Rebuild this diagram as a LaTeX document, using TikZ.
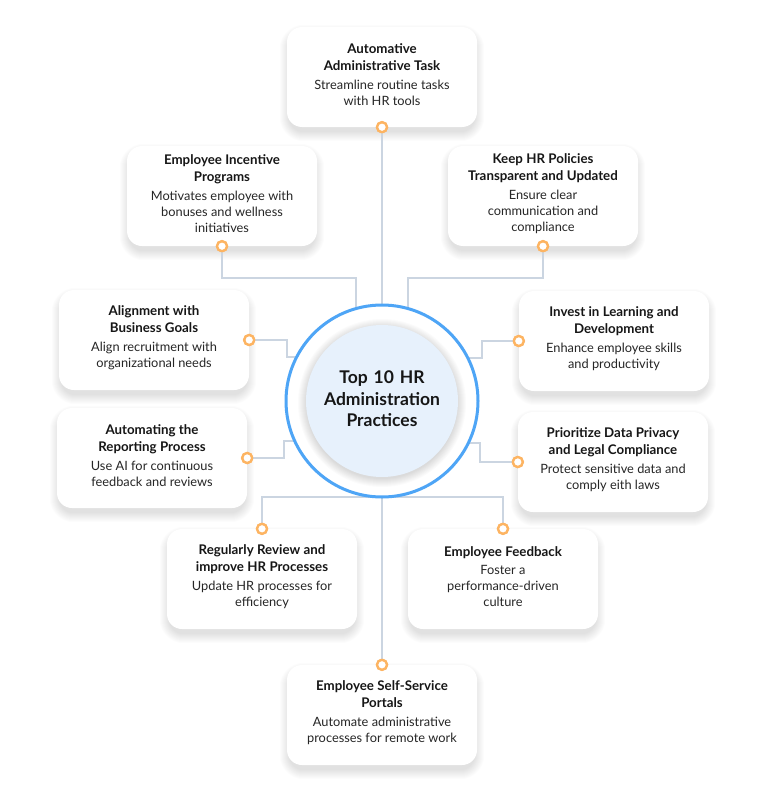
\documentclass[tikz,border=0pt]{standalone}
\usepackage{fontspec}
\setmainfont{Lato}
\usetikzlibrary{calc,backgrounds}
\definecolor{ringblue}{HTML}{4EA5F6}
\definecolor{innerfill}{HTML}{E7F1FC}
\definecolor{connc}{HTML}{CBD5E1}
\definecolor{dotc}{HTML}{FDB462}
\definecolor{titlec}{HTML}{161616}
\definecolor{bodyc}{HTML}{262626}
\newcommand{\cardtitlefont}{\fontsize{13.3}{17}\selectfont\bfseries\color{titlec}}
\newcommand{\cardbodyfont}{\fontsize{12.8}{16}\selectfont\color{bodyc}}
\newcommand{\cardcontent}[2]{{\cardtitlefont #1\par}\vspace{2.5pt}{\cardbodyfont #2\par}\vspace{5pt}\nointerlineskip\hbox{}}
\tikzset{
  card/.style={fill=white, rounded corners=15pt, minimum width=190pt, minimum height=100pt, inner sep=0pt,
    text width=186pt, align=center},
  conn/.style={draw=connc, line width=1.2pt},
  dotnode/.style={circle, draw=dotc, fill=white, line width=2.3pt, minimum size=10pt, inner sep=0pt},
  shadowlayer/.style={fill=black, fill opacity=0.011},
}
\begin{document}
\begin{tikzpicture}[x=1pt,y=-1pt]
\useasboundingbox (0,0) rectangle (765,800);

% cards
\node[card] (b1)  at (382,77)  {\cardcontent{Automative\\Administrative Task}{Streamline routine tasks\\with HR tools}};
\node[card] (b2)  at (222,196) {\cardcontent{Employee Incentive\\Programs}{Motivates employee with\\bonuses and wellness\\initiatives}};
\node[card] (b3)  at (543,196) {\cardcontent{Keep HR Policies\\Transparent and Updated}{Ensure clear\\communication and\\compliance}};
\node[card] (b4)  at (154,340) {\cardcontent{Alignment with\\Business Goals}{Align recruitment with\\organizational needs}};
\node[card] (b5)  at (614,341) {\cardcontent{Invest in Learning and\\Development}{Enhance employee skills\\and productivity}};
\node[card] (b6)  at (152,458) {\cardcontent{Automating the\\Reporting Process}{Use AI for continuous\\feedback and reviews}};
\node[card] (b7)  at (613,462) {\cardcontent{Prioritize Data Privacy\\and Legal Compliance}{Protect sensitive data and\\comply eith laws}};
\node[card] (b8)  at (262,579) {\cardcontent{Regularly Review and\\improve HR Processes}{Update HR processes for\\efficiency}};
\node[card] (b9)  at (503,579) {\cardcontent{Employee Feedback}{Foster a\\performance-driven\\culture}};
\node[card] (b10) at (382,715) {\cardcontent{Employee Self-Service\\Portals}{Automate administrative\\processes for remote work}};

% soft shadows and page background
\begin{scope}[on background layer]
  \fill[white] (0,0) rectangle (765,800);
  \foreach \b in {b1,b2,b3,b4,b5,b6,b7,b8,b9,b10}
    \foreach \k in {0,...,9}
      \fill[shadowlayer, rounded corners={15pt+\k pt}]
        ($(\b.south west)+(-\k+2,\k+5)$) rectangle ($(\b.north east)+(\k-2,-\k+7)$);
\end{scope}

% connection points
\node[dotnode] (d1)  at (b1.south) {};
\node[dotnode] (d2)  at (b2.south) {};
\node[dotnode] (d3)  at (b3.south) {};
\node[dotnode] (d4)  at (b4.east) {};
\node[dotnode] (d5)  at (b5.west) {};
\node[dotnode] (d6)  at (b6.east) {};
\node[dotnode] (d7)  at (b7.west) {};
\node[dotnode] (d8)  at (b8.north) {};
\node[dotnode] (d9)  at (b9.north) {};
\node[dotnode] (d10) at (b10.north) {};

% connectors
\coordinate (cc) at (382,401);
\draw[conn] (d1) -- (cc);
\draw[conn] (d2) |- (356,278) -- (356,401);
\draw[conn] (d3) |- (408,278) -- (408,401);
\draw[conn] (d4) -| (287,357) -- (cc |- 0,357);
\draw[conn] (d5) -| (482,358) -- (cc |- 0,358);
\draw[conn] (d6) -| (284,441) -- (cc |- 0,441);
\draw[conn] (d7) -| (480,443) -- (cc |- 0,443);
\draw[conn] (d8) |- (cc |- 0,497) -| (d9);
\draw[conn] (cc) -- (d10);

% redraw dots on top of connectors
\foreach \d in {d1,d2,d3,d4,d5,d6,d7,d8,d9,d10}
  \node[dotnode] at (\d) {};

% center
\node[circle, minimum size=192pt, draw=ringblue, line width=3pt, fill=white, inner sep=0pt] (ring) at (cc) {};
\foreach \k in {0,...,8}
  \fill[black, fill opacity=0.014] ($(ring.center)+(0,2)$) circle ({76pt+\k pt});
\node[circle, minimum size=152pt, fill=innerfill, inner sep=0pt] (inner) at (ring.center) {};
\node[text width=150pt, align=center, inner sep=0pt, font=\fontsize{17.5}{21.5}\selectfont\bfseries, text=titlec] (ctitle) at ($(inner.center)+(0,-2)$) {Top 10 HR\\Administration\\Practices};
\end{tikzpicture}
\end{document}
